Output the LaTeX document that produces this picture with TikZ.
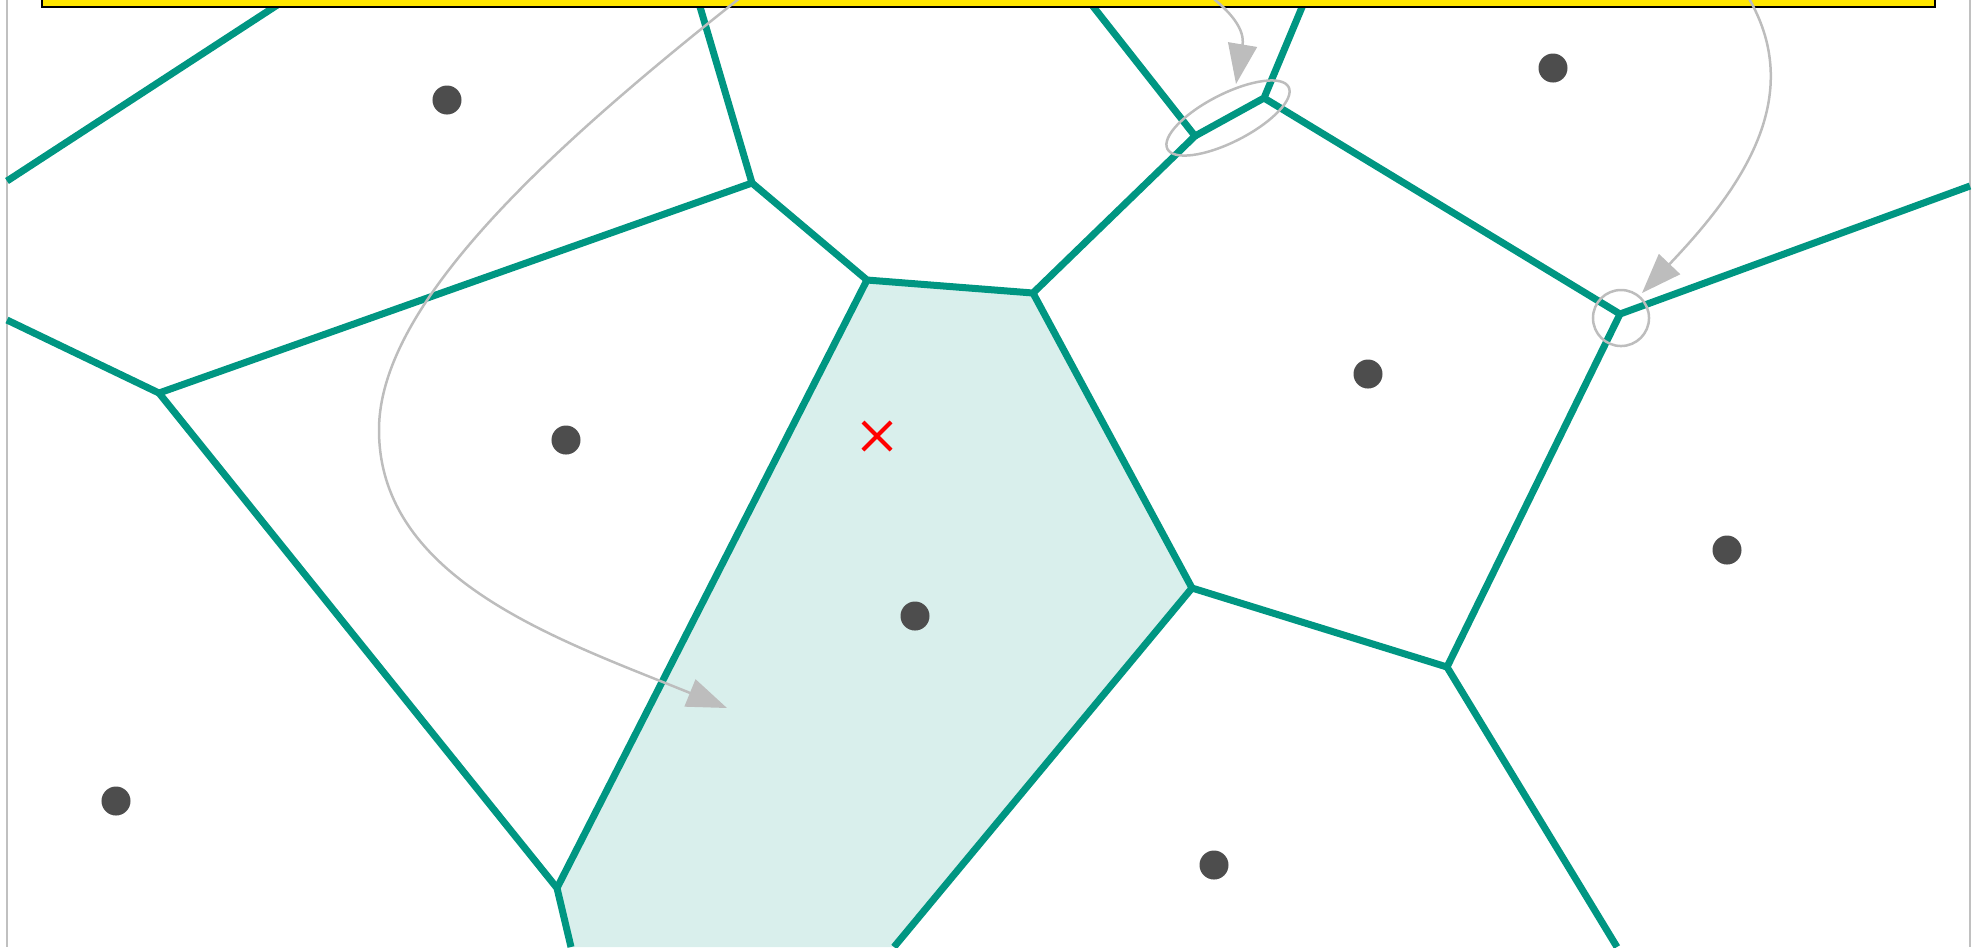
\documentclass[tikz,border=0pt]{standalone}
\usepackage{xcolor}
\usepackage{tikz}
\usetikzlibrary{arrows.meta, shapes.misc}

\definecolor{cellteal}{RGB}{0,150,130}
\definecolor{seedgray}{RGB}{77,77,77}
\definecolor{notegray}{RGB}{189,189,189}
\definecolor{framegray}{RGB}{192,192,192}
\definecolor{boxyellow}{RGB}{255,230,0}

\begin{document}
\begin{tikzpicture}[
  x=0.01cm, y=-0.01cm,
  edge/.style={draw=cellteal, line width=0.07cm},
  seed/.style={circle, fill=seedgray, minimum size=0.29cm, inner sep=0pt},
  note/.style={draw=notegray, line width=0.025cm},
  notearrow/.style={note, -{Triangle[length=0.4cm, width=0.29cm]}},
  >=Stealth
]
\useasboundingbox (0,0) rectangle (1981,947);

% Voronoi vertices
\coordinate (vA) at (752,183);
\coordinate (vB) at (867,280);
\coordinate (vC) at (1033,293);
\coordinate (vD) at (1195,136);
\coordinate (vE) at (1264,98);
\coordinate (vF) at (1620,314);
\coordinate (vG) at (1192,588);
\coordinate (vH) at (1447,667);
\coordinate (vI) at (159,393);
\coordinate (vJ) at (557,888);

% Where edges leave the frame
\coordinate (tlLow) at (7,181);
\coordinate (tlTop) at (285,0);
\coordinate (iLeft) at (7,320);
\coordinate (aTop) at (698,0);
\coordinate (dTop) at (1088,0);
\coordinate (eTop) at (1305,0);
\coordinate (fRight) at (1970,186);
\coordinate (gBot) at (894,947);
\coordinate (jBot) at (571,947);
\coordinate (hBot) at (1617,947);

% Highlighted cell
\fill[cellteal!15] (vB) -- (vC) -- (vG) -- (gBot) -- (jBot) -- (vJ) -- cycle;

% Frame
\draw[framegray, line width=0.02cm] (7,0) -- (7,947);
\draw[framegray, line width=0.02cm] (1970,0) -- (1970,947);

% Edges
\draw[edge] (tlLow) -- (tlTop);
\draw[edge] (iLeft) -- (vI) -- (vA) -- (aTop);
\draw[edge] (vI) -- (vJ) -- (jBot);
\draw[edge] (vA) -- (vB) -- (vC) -- (vD) -- (dTop);
\draw[edge] (vD) -- (vE) -- (eTop);
\draw[edge] (vE) -- (vF) -- (fRight);
\draw[edge] (vF) -- (vH) -- (hBot);
\draw[edge] (vB) -- (vJ);
\draw[edge] (vC) -- (vG) -- (gBot);
\draw[edge] (vG) -- (vH);

% Sites
\node[seed] (s1) at (447,100) {};
\node[seed] (s2) at (1553,68) {};
\node[seed] (s3) at (566,440) {};
\node[seed] (s4) at (1368,374) {};
\node[seed] (s5) at (1727,550) {};
\node[seed] (s6) at (915,616) {};
\node[seed] (s7) at (116,801) {};
\node[seed] (s8) at (1214,865) {};

% Query point
\node[cross out, draw=red, line width=0.04cm, minimum size=0.24cm, inner sep=0pt] (query) at (877,436) {};

% Banner
\draw[fill=boxyellow, draw=black, line width=0.025cm] (42,-80) rectangle (1935,7);

% Callouts
\coordinate (from1) at (750,-10);
\coordinate (from2) at (1205,-8);
\coordinate (from3) at (1745,-8);
\coordinate (tip1) at (727,708);
\coordinate (tip2) at (1236,84);
\coordinate (tip3) at (1642,293);
\coordinate (ringDE) at (1228,118);
\coordinate (ringF) at (1621,318);

\draw[notearrow] (from1) .. controls (560,140) and (379,300) .. (379,430)
  .. controls (379,580) and (560,640) .. (tip1);
\draw[notearrow] (from2) .. controls (1232,12) and (1245,30) .. (tip2);
\draw[notearrow] (from3) .. controls (1810,95) and (1740,190) .. (tip3);

\draw[note, rotate around={27:(ringDE)}] (ringDE) ellipse [x radius=0.68cm, y radius=0.24cm];
\draw[note] (ringF) circle [radius=0.28cm];
\end{tikzpicture}
\end{document}
